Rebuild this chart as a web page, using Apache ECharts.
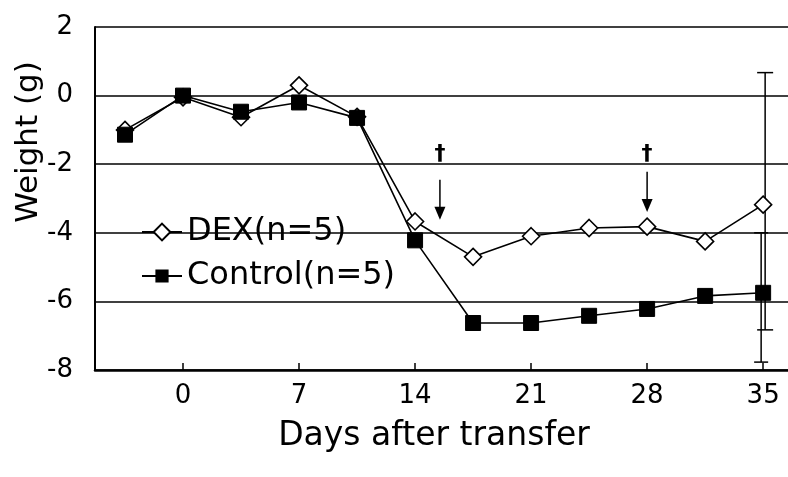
<!DOCTYPE html>
<html>
<head>
<meta charset="utf-8">
<script src="https://cdn.jsdelivr.net/npm/echarts@6/dist/echarts.min.js"></script>
<style>
html,body{margin:0;padding:0;background:#fff;}
#chart{width:788px;height:477px;}
</style>
</head>
<body>
<div id="chart"></div>
<script>
// ---- data ----
const days = [-3.5, 0, 3.5, 7, 10.5, 14, 17.5, 21, 24.5, 28, 31.5, 35];
const dexWeight = [-1.0, -0.05, -0.63, 0.3, -0.62, -3.67, -4.7, -4.1, -3.86, -3.82, -4.25, -3.18];
const controlWeight = [-1.14, 0.0, -0.47, -0.2, -0.65, -4.22, -6.63, -6.63, -6.42, -6.22, -5.84, -5.75];
const dexError = [[35, 0.67, -6.83]];       // [day, upper, lower]
const controlError = [[35, -4.0, -7.77]];   // [day, upper, lower]
const arrowMarks = [[15.5, -2.45, -3.62, -1.72], [28, -2.22, -3.39, -1.72]]; // [day, top, tip, dagger]
const xTicks = [0, 7, 14, 21, 28, 35];
const yTicks = [-8, -6, -4, -2, 0, 2];
const seriesNames = ['DEX(n=5)', 'Control(n=5)'];

const FONT = 'DejaVu Sans';
const chart = echarts.init(document.getElementById('chart'), null, {renderer: 'canvas'});

function zip(xs, ys) { return xs.map((x, i) => [x, ys[i]]); }

function errRender(offset, capW) {
  return function (params, api) {
    const top = api.coord([api.value(0), api.value(1)]);
    const bot = api.coord([api.value(0), api.value(2)]);
    const x = top[0] + offset;
    const st = {stroke: '#000', lineWidth: 1.5};
    return {
      type: 'group',
      children: [
        {type: 'line', shape: {x1: x, y1: top[1], x2: x, y2: bot[1]}, style: st},
        {type: 'line', shape: {x1: x - capW / 2, y1: top[1], x2: x + capW / 2, y2: top[1]}, style: st},
        {type: 'line', shape: {x1: x - capW / 2, y1: bot[1], x2: x + capW / 2, y2: bot[1]}, style: st}
      ]
    };
  };
}

const option = {
  animation: false,
  backgroundColor: '#fff',
  grid: {left: 95, right: 0, top: 27, bottom: 107, containLabel: false},
  xAxis: {
    type: 'value', min: -5.31, max: 36.5,
    axisLine: {onZero: false, lineStyle: {color: '#000', width: 2.5}},
    axisTick: {customValues: xTicks, inside: true, length: 7, lineStyle: {color: '#000', width: 1.5}},
    axisLabel: {customValues: xTicks, fontSize: 26, color: '#000', fontFamily: FONT, margin: 13},
    splitLine: {show: false}
  },
  yAxis: {
    type: 'value', min: yTicks[0], max: yTicks[yTicks.length - 1], interval: 2,
    axisLine: {show: true, onZero: false, lineStyle: {color: '#000', width: 2}},
    axisTick: {show: false},
    axisLabel: {fontSize: 26, color: '#000', fontFamily: FONT, margin: 22},
    splitLine: {show: true, lineStyle: {color: '#000', width: 1.5}}
  },
  legend: [
    {data: [seriesNames[0]], orient: 'vertical', left: 141, top: 215, padding: 0,
     itemWidth: 40, itemHeight: 21, textStyle: {fontSize: 32, color: '#000', fontFamily: FONT, lineHeight: 34}},
    {data: [seriesNames[1]], orient: 'vertical', left: 141, top: 259, padding: 0,
     itemWidth: 40, itemHeight: 14, textStyle: {fontSize: 32, color: '#000', fontFamily: FONT, lineHeight: 34}}
  ],
  graphic: [
    {type: 'text', x: 434, y: 436, style: {text: 'Days after transfer', font: '33px "DejaVu Sans"', fill: '#000', textAlign: 'center', textVerticalAlign: 'middle'}},
    {type: 'text', x: 29, y: 142, rotation: Math.PI / 2, style: {text: 'Weight (g)', font: '31px "DejaVu Sans"', fill: '#000', textAlign: 'center', textVerticalAlign: 'middle'}}
  ],
  series: [
    {type: 'custom', name: 'dexErr', data: dexError, renderItem: errRender(2, 16), z: 1, silent: true},
    {type: 'custom', name: 'ctlErr', data: controlError, renderItem: errRender(-2, 14), z: 1, silent: true},
    {
      type: 'custom', name: 'arrows', data: arrowMarks, z: 1, silent: true,
      renderItem: function (params, api) {
        const top = api.coord([api.value(0), api.value(1)]);
        const tip = api.coord([api.value(0), api.value(2)]);
        const dag = api.coord([api.value(0), api.value(3)]);
        const x = top[0];
        return {
          type: 'group',
          children: [
            {type: 'line', shape: {x1: x, y1: top[1], x2: x, y2: tip[1] - 10}, style: {stroke: '#000', lineWidth: 1.5}},
            {type: 'polygon', shape: {points: [[x - 5.5, tip[1] - 13], [x + 5.5, tip[1] - 13], [x, tip[1]]]}, style: {fill: '#000'}},
            {type: 'text', x: x, y: dag[1], style: {text: '†', font: 'bold 22px "DejaVu Sans"', fill: '#000', textAlign: 'center', textVerticalAlign: 'middle'}}
          ]
        };
      }
    },
    {
      type: 'line', name: seriesNames[0], data: zip(days, dexWeight), z: 3,
      symbol: 'diamond', symbolSize: 17,
      lineStyle: {color: '#000', width: 1.6},
      itemStyle: {color: '#fff', borderColor: '#000', borderWidth: 1.6}
    },
    {
      type: 'line', name: seriesNames[1], data: zip(days, controlWeight), z: 4,
      symbol: 'rect', symbolSize: 15,
      lineStyle: {color: '#000', width: 1.6},
      itemStyle: {color: '#000', borderColor: '#000', borderWidth: 1}
    }
  ]
};
chart.setOption(option);
</script>
</body>
</html>
